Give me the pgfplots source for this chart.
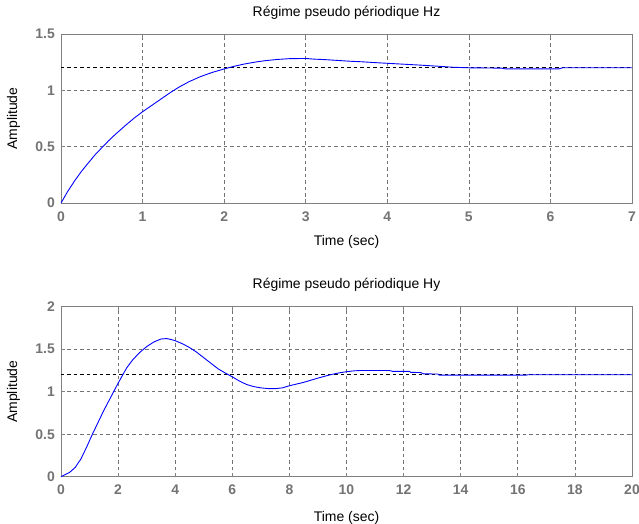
\documentclass[border=0pt]{standalone}
\usepackage{pgfplots}
\pgfplotsset{compat=1.18}
\usepackage{fontspec}
\setmainfont{Liberation Sans}
\definecolor{tickgray}{rgb}{0.45,0.45,0.45}
\definecolor{framegray}{rgb}{0.5,0.5,0.5}
\definecolor{gridgray}{rgb}{0.45,0.45,0.45}
\pgfplotsset{
  matlab/.style={
    scale only axis,
    width=571bp,
    xmin=0, ymin=0,
    axis line style={framegray, line width=0.8bp},
    grid=major,
    grid style={dash pattern=on 3.5bp off 3bp, gridgray, line width=0.7bp},
    tick align=inside,
    major tick length=4bp,
    tick style={framegray, line width=0.7bp},
    /pgf/number format/assume math mode=true,
    font=\fontsize{14}{16}\selectfont,
    ticklabel style={font=\fontsize{14}{16}\selectfont\bfseries, text=tickgray},
    xticklabel style={anchor=base, inner sep=0pt, yshift=-18bp},
    yticklabel style={anchor=east, inner sep=0pt, xshift=-6bp},
    title style={anchor=base, inner sep=0pt, font=\fontsize{14}{16}\selectfont},
    xlabel style={anchor=base, inner sep=0pt},
    ylabel style={anchor=base, inner sep=0pt, rotate=0},
    xlabel={Time (sec)},
    ylabel={Amplitude},
  }
}
\begin{document}
\begin{tikzpicture}
\useasboundingbox (-61bp,-321bp) rectangle (578bp,203bp);
% ---------- top : Hz ----------
\begin{axis}[matlab,
  at={(0bp,0bp)}, anchor=south west,
  height=169bp,
  xmax=7, ymax=1.5,
  xtick={0,1,...,7},
  ytick={0,0.5,1,1.5},
  title={Régime pseudo périodique Hz},
  title style={at={(axis description cs:0.5,1.069)}},
  xlabel style={at={(axis description cs:0.5,-0.252)}},
  ylabel style={at={(axis description cs:-0.077,0.5)}},
]
\addplot[black, line width=0.8bp, dash pattern=on 3.5bp off 3bp] coordinates {(0,1.2) (7,1.2)};
\addplot[blue, line width=0.9bp] coordinates {
(0,0) (0.08,0.1) (0.17,0.2) (0.25,0.28) (0.34,0.36) (0.42,0.43) (0.5,0.49)
(0.58,0.55) (0.66,0.605) (0.8,0.695) (0.9,0.755) (1.0,0.81) (1.16,0.89)
(1.34,0.98) (1.45,1.03) (1.57,1.077) (1.71,1.122) (1.85,1.158) (2.0,1.19)
(2.12,1.213) (2.25,1.234) (2.4,1.253) (2.5,1.263) (2.65,1.274) (2.8,1.281)
(3.0,1.283) (3.1,1.277) (3.25,1.272) (3.4,1.265) (3.55,1.258) (3.7,1.253)
(3.85,1.246) (4.0,1.24) (4.2,1.232) (4.4,1.224) (4.6,1.215) (4.8,1.205)
(5.0,1.2) (5.4,1.197) (5.45,1.19) (6.1,1.19) (6.15,1.2) (7,1.2)
};
\end{axis}
% ---------- bottom : Hy ----------
\begin{axis}[matlab,
  at={(0bp,-273.7bp)}, anchor=south west,
  height=170bp,
  xmax=20, ymax=2,
  xtick={0,2,...,20},
  ytick={0,0.5,1,1.5,2},
  title={Régime pseudo périodique Hy},
  title style={at={(axis description cs:0.5,1.069)}},
  xlabel style={at={(axis description cs:0.5,-0.262)}},
  ylabel style={at={(axis description cs:-0.077,0.5)}},
]
\addplot[black, line width=0.8bp, dash pattern=on 3.5bp off 3bp] coordinates {(0,1.2) (20,1.2)};
\addplot[blue, line width=0.9bp] coordinates {
(0,0) (0.3,0.05) (0.5,0.11) (0.7,0.21) (0.9,0.35) (1.1,0.5) (1.3,0.64)
(1.5,0.78) (1.75,0.94) (2.0,1.10) (2.15,1.19) (2.3,1.28) (2.5,1.37)
(2.75,1.46) (3.0,1.53) (3.25,1.585) (3.5,1.62) (3.7,1.625) (3.85,1.615)
(4.0,1.60) (4.25,1.565) (4.5,1.52) (4.75,1.465) (5.0,1.40) (5.25,1.335)
(5.5,1.27) (5.75,1.22) (6.0,1.175) (6.25,1.125) (6.5,1.085) (6.75,1.06)
(7.0,1.045) (7.25,1.037) (7.5,1.036) (7.75,1.045) (8.0,1.07) (8.25,1.09)
(8.5,1.11) (8.75,1.135) (9.0,1.16) (9.25,1.183) (9.5,1.205) (9.75,1.222)
(10.0,1.235) (10.25,1.245) (10.5,1.25) (11.0,1.25) (11.5,1.25) (11.6,1.24)
(12.2,1.24) (12.25,1.228) (12.6,1.225) (12.7,1.21) (13.2,1.208) (13.25,1.195)
(16.3,1.195) (16.35,1.2) (20,1.2)
};
\end{axis}
\end{tikzpicture}
\end{document}
